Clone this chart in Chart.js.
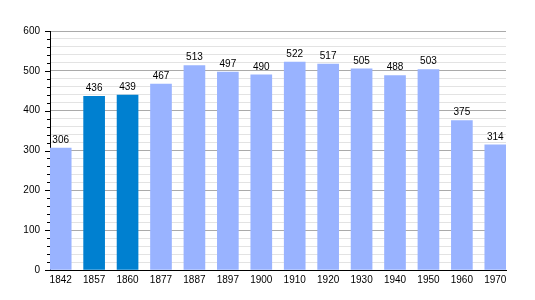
<!DOCTYPE html>
<html><head><meta charset="utf-8">
<script src="https://cdn.jsdelivr.net/npm/chart.js@4/dist/chart.umd.min.js"></script>
<style>html,body{margin:0;padding:0;background:#fff}#wrap{width:535px;height:300px}</style>
</head><body><div id="wrap"><canvas id="c" width="535" height="300"></canvas></div>
<script>
const years = ['1842','1857','1860','1877','1887','1897','1900','1910','1920','1930','1940','1950','1960','1970'];
const population = [306,436,439,467,513,497,490,522,517,505,488,503,375,314];
const highlighted = [false,true,true,false,false,false,false,false,false,false,false,false,false,false];
const yTicksMajor = [0,100,200,300,400,500,600];

const LIGHT = '#99b3ff', DARK = '#0080d0';
const FONT = {family: '"Liberation Sans", Arial, sans-serif', size: 10};

const valueLabels = {
  id: 'valueLabels',
  afterDatasetsDraw(chart) {
    const ctx = chart.ctx;
    const meta = chart.getDatasetMeta(0);
    ctx.save();
    ctx.font = '10px "Liberation Sans", Arial, sans-serif';
    ctx.fillStyle = '#000';
    ctx.textAlign = 'center';
    ctx.textBaseline = 'bottom';
    meta.data.forEach((bar, i) => {
      ctx.fillText(String(population[i]), bar.x, bar.y - 3);
    });
    ctx.restore();
  }
};

const yTickMarks = {
  id: 'yTickMarks',
  afterDraw(chart) {
    const ctx = chart.ctx, y = chart.scales.y;
    const x0 = chart.chartArea.left;
    ctx.save();
    ctx.strokeStyle = '#000';
    ctx.lineWidth = 1;
    for (let v = 0; v <= 600; v += 20) {
      const py = Math.round(y.getPixelForValue(v)) + 0.5;
      const len = (v % 100 === 0) ? 5 : 3;
      ctx.beginPath();
      ctx.moveTo(x0 - len, py);
      ctx.lineTo(x0, py);
      ctx.stroke();
    }
    ctx.restore();
  }
};

new Chart(document.getElementById('c'), {
  type: 'bar',
  data: {
    datasets: [{
      data: population.map((v, i) => ({x: i, y: v})),
      backgroundColor: highlighted.map(h => h ? DARK : LIGHT),
      borderWidth: 0,
      barThickness: 21
    }]
  },
  options: {
    responsive: false,
    animation: false,
    devicePixelRatio: 1,
    layout: {padding: {left: 0, right: 29, top: 31, bottom: 0}},
    plugins: {legend: {display: false}, tooltip: {enabled: false}},
    scales: {
      x: {
        type: 'linear',
        offset: false,
        min: -0.32,
        max: 13.32,
        afterBuildTicks(scale) { scale.ticks = years.map((_, i) => ({value: i})); },
        afterFit(scale) { scale.height = 30; },
        grid: {display: false, drawTicks: false},
        border: {display: true, color: '#000', width: 1},
        ticks: {
          font: FONT, color: '#000', padding: 4, maxRotation: 0, autoSkip: false,
          callback: (v) => years[v] ?? ''
        }
      },
      y: {
        min: 0, max: 600,
        afterBuildTicks(scale) {
          const t = [];
          for (let v = 0; v <= 600; v += 20) t.push({value: v});
          scale.ticks = t;
        },
        afterFit(scale) { scale.width = 50; },
        grid: {
          drawTicks: false,
          color: (c) => (c.tick && c.tick.value % 100 === 0) ? '#aaaaaa' : '#e3e3e3',
          lineWidth: 1
        },
        border: {display: true, color: '#000', width: 1},
        ticks: {
          font: FONT, color: '#000', padding: 10, autoSkip: false,
          callback: (v) => yTicksMajor.includes(v) ? String(v) : ''
        }
      }
    }
  },
  plugins: [valueLabels, yTickMarks]
});
</script></body></html>
